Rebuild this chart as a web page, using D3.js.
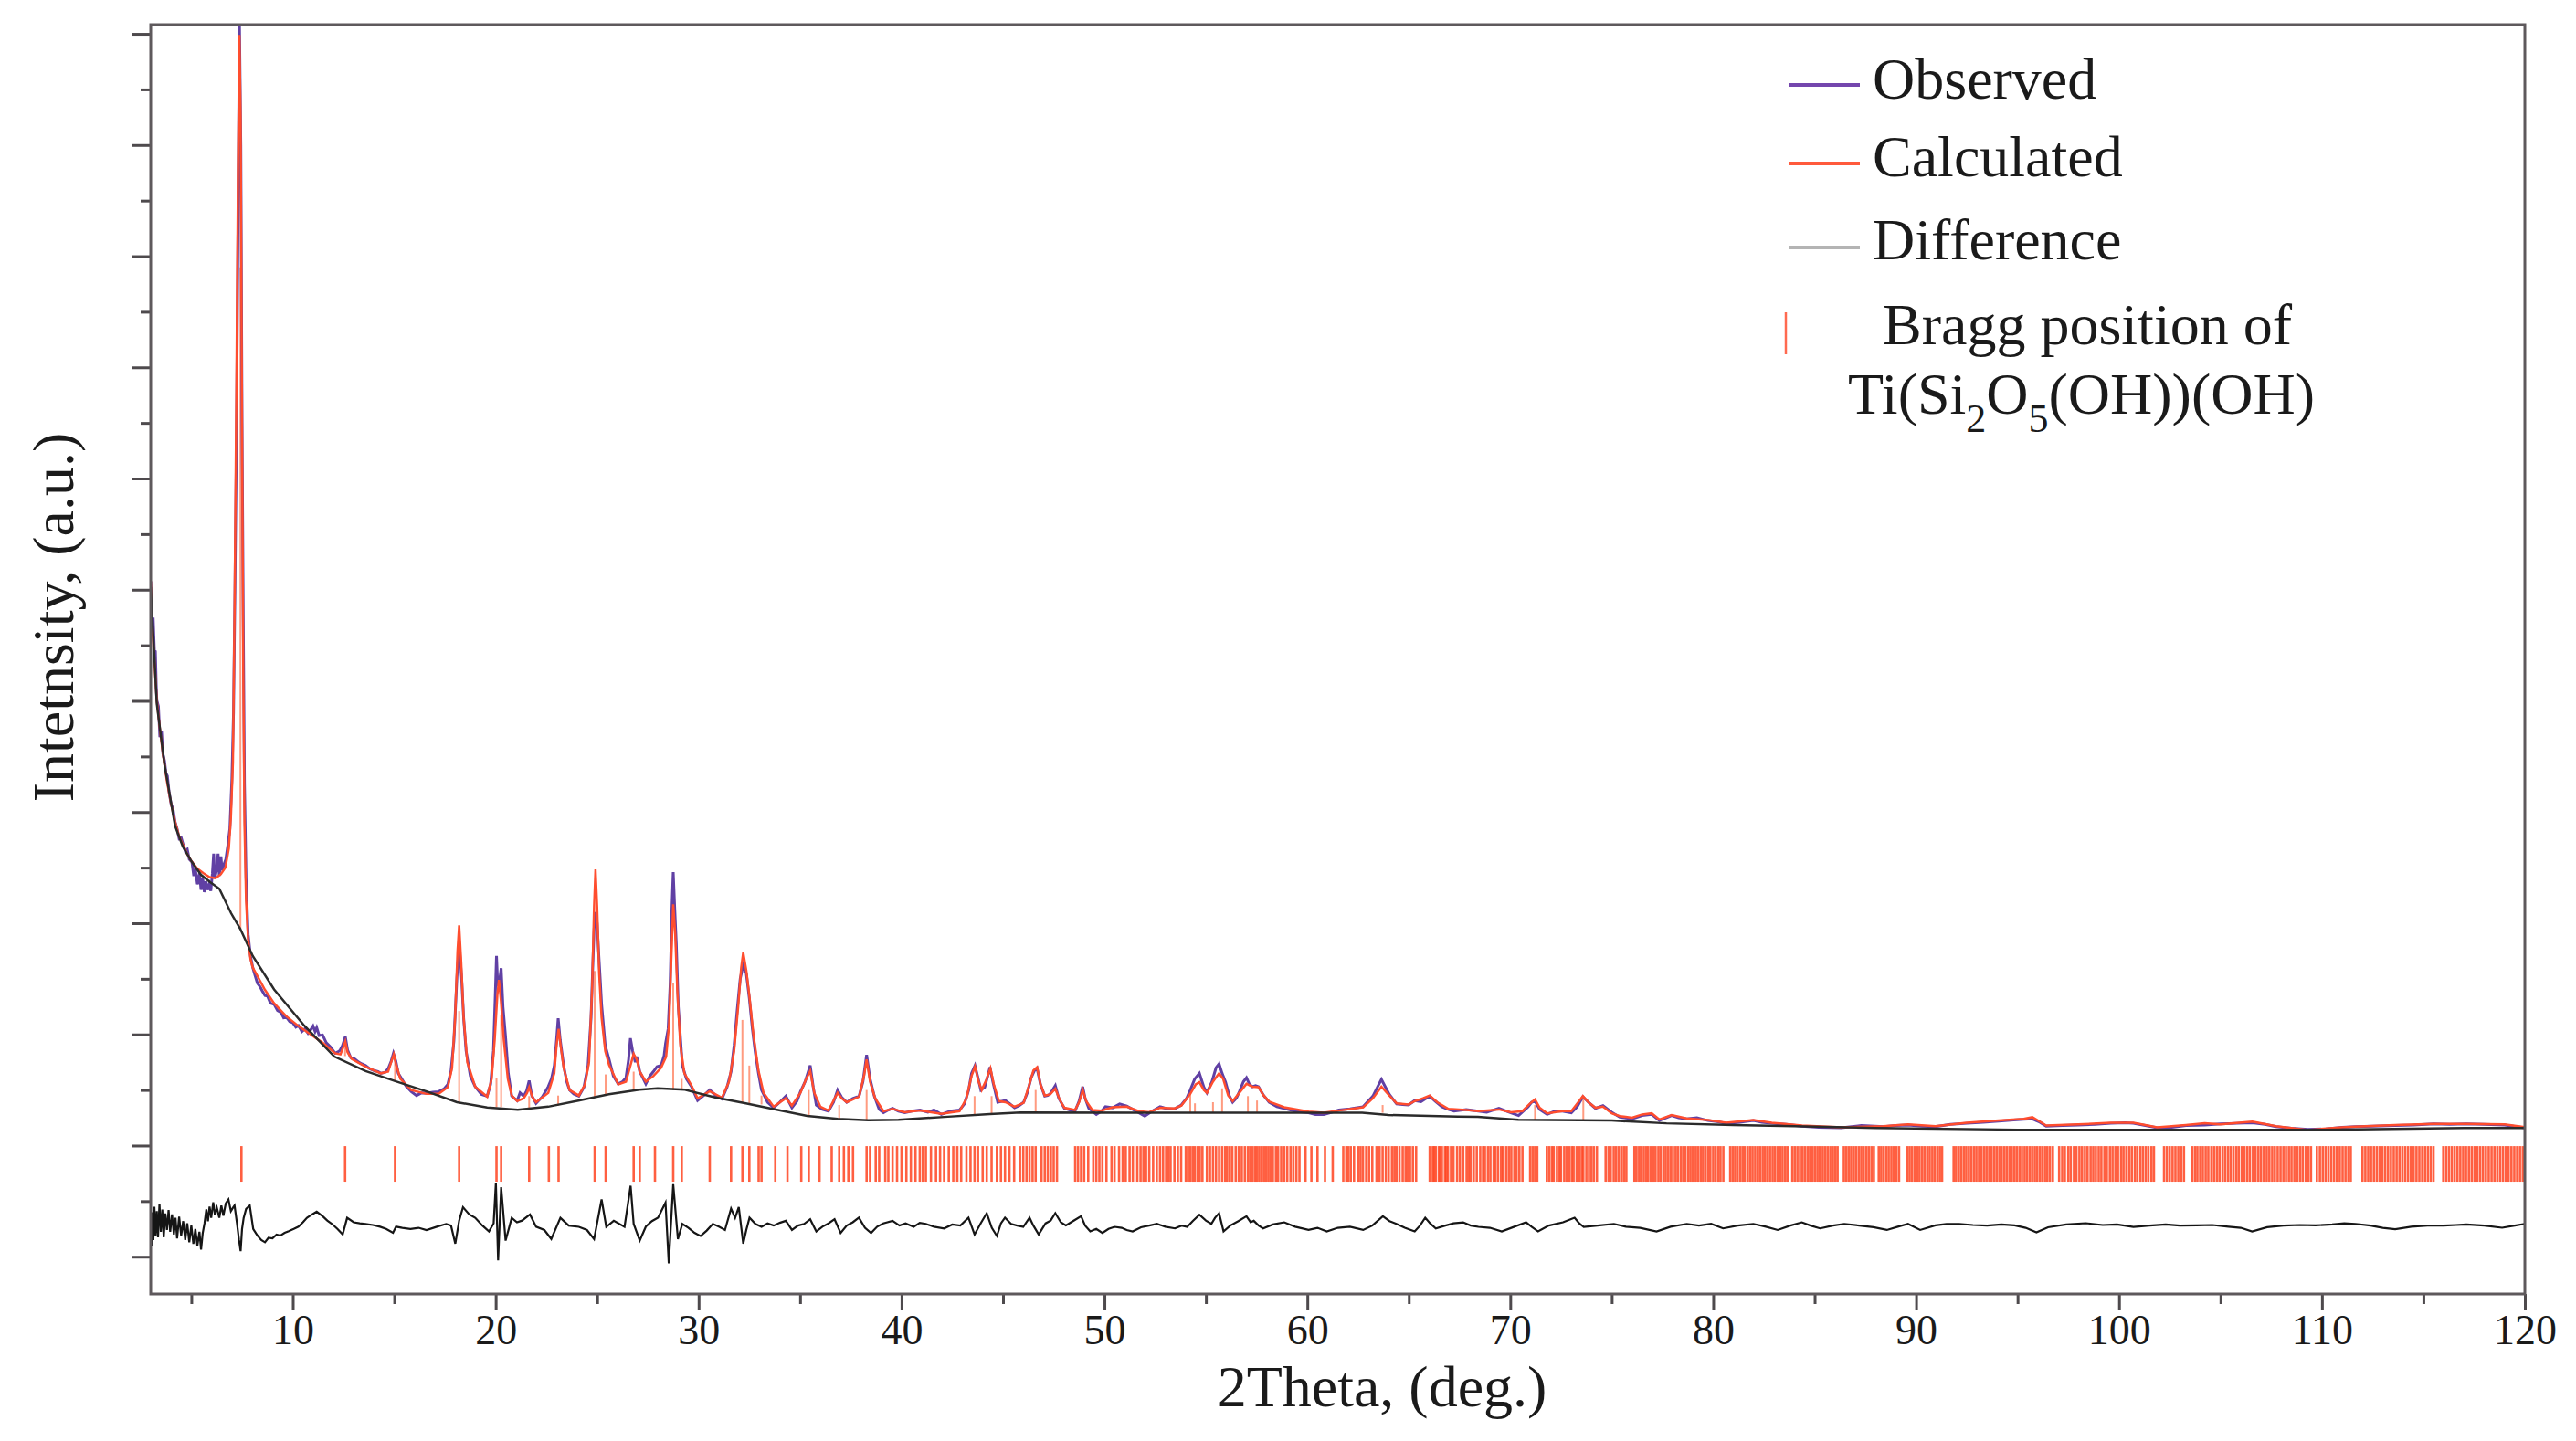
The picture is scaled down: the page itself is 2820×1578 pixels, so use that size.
<!DOCTYPE html>
<html>

<head>
  <title>Rietveld refinement</title>
  <meta charset="utf-8">
  <style>
    body {
      padding: 0;
      margin: 0;
      background: white;
    }
    svg {
      display: block;
      font-family: "Liberation Serif", "Times New Roman", serif;
    }
    .frame {
      fill: none;
      stroke: #5e595c;
      stroke-width: 3;
    }
    .axis line {
      stroke: #4e4a4d;
      stroke-width: 3;
    }
    .axis path {
      display: none;
    }
    .axis text {
      font-family: "Liberation Serif", "Times New Roman", serif;
      font-size: 46px;
      fill: #1a1a1a;
    }
    .title {
      font-size: 64px;
      fill: #1a1a1a;
    }
    .obs { fill: none; stroke: #6040a4; stroke-width: 3; }
    .calc { fill: none; stroke: #ff4d2e; stroke-width: 2.5; }
    .bkg { fill: none; stroke: #2b2b2b; stroke-width: 2.5; }
    .diff { fill: none; stroke: #151515; stroke-width: 2.2; }
    .bragg { stroke: #ff4420; stroke-width: 2.6; opacity: .85; }
    .stick { stroke: #ff8a6a; stroke-width: 2; opacity: .85; }
  </style>
</head>

<body>
  <div id="chart"></div>

  <script src="https://d3js.org/d3.v7.min.js"></script>
  <script>
      // observed pattern [2theta, intensity]
      var observed = [
        [3.00,12150],[3.05,11600],[3.08,11330],[3.12,11500],[3.18,10900],[3.23,10890],[3.27,10300],[3.30,10010],[3.38,9900],[3.45,9350],
        [3.53,9460],[3.60,9050],[3.68,8920],[3.75,8700],[3.82,8650],[3.90,8370],[4.00,8150],[4.10,8050],[4.20,7820],[4.30,7700],
        [4.40,7520],[4.50,7540],[4.58,7440],[4.70,7300],[4.80,7330],[4.90,7150],[5.03,7100],[5.12,6850],[5.20,6980],[5.30,6700],
        [5.40,6900],[5.48,6600],[5.56,6820],[5.64,6560],[5.72,6750],[5.80,6600],[5.88,6700],[5.96,6580],[6.04,6900],[6.10,7250],
        [6.16,6800],[6.24,6950],[6.32,7250],[6.38,6850],[6.46,7200],[6.52,6950],[6.60,7050],[6.70,7150],[6.80,7400],[6.90,7700],
        [7.00,8600],[7.08,9800],[7.15,12000],[7.22,14500],[7.30,18500],[7.37,22300],[7.44,20000],[7.50,15000],[7.56,11500],[7.62,8500],
        [7.70,6800],[7.80,5800],[7.92,5400],[8.03,5200],[8.15,5050],[8.26,4920],[8.40,4850],[8.50,4780],[8.63,4700],[8.75,4690],
        [8.90,4560],[9.08,4540],[9.25,4430],[9.40,4400],[9.55,4300],[9.67,4320],[9.85,4230],[10.00,4210],[10.15,4130],[10.28,4160],
        [10.45,4050],[10.60,4100],[10.75,4020],[10.88,4080],[11.00,4150],[11.10,4050],[11.18,4120],[11.30,3980],[11.47,3990],[11.65,3850],
        [11.85,3780],[12.09,3660],[12.20,3680],[12.32,3710],[12.45,3800],[12.59,3960],[12.70,3720],[12.86,3580],[13.05,3560],[13.25,3500],
        [13.40,3470],[13.59,3440],[13.80,3380],[14.00,3350],[14.20,3330],[14.34,3300],[14.55,3320],[14.71,3390],[14.85,3520],[14.96,3660],
        [15.08,3520],[15.20,3300],[15.40,3180],[15.60,3060],[15.84,2970],[16.10,2900],[16.35,2950],[16.59,2940],[16.90,2960],[17.19,2970],
        [17.45,3020],[17.64,3100],[17.80,3350],[17.94,3880],[18.09,5030],[18.20,5640],[18.32,5030],[18.42,4300],[18.54,3710],[18.75,3250],
        [18.99,3060],[19.30,2920],[19.58,2890],[19.75,3100],[19.89,3710],[19.98,4700],[20.04,5410],[20.10,4900],[20.16,4860],[20.22,5050],
        [20.27,5190],[20.36,4500],[20.48,3990],[20.62,3300],[20.79,2890],[21.06,2810],[21.20,2950],[21.38,2890],[21.52,2980],[21.65,3170],
        [21.78,2900],[21.99,2760],[22.30,2880],[22.59,3060],[22.75,3200],[22.89,3440],[23.00,3900],[23.08,4290],[23.18,3900],[23.35,3440],
        [23.50,3150],[23.64,3000],[23.85,2930],[24.10,2890],[24.35,3050],[24.55,3440],[24.70,4300],[24.77,5080],[24.85,5900],[24.92,6200],
        [25.00,6000],[25.07,5500],[25.15,5000],[25.22,4540],[25.40,3800],[25.59,3550],[25.80,3250],[26.04,3110],[26.25,3150],[26.42,3220],
        [26.55,3550],[26.64,3930],[26.75,3700],[26.88,3500],[26.95,3600],[27.10,3330],[27.40,3110],[27.60,3250],[27.77,3330],[27.95,3420],
        [28.15,3440],[28.30,3620],[28.37,3830],[28.50,4100],[28.60,4920],[28.68,6200],[28.75,6920],[28.82,6300],[28.90,5640],[29.00,4500],
        [29.20,3440],[29.40,3200],[29.65,3060],[29.95,2810],[30.25,2900],[30.55,3000],[30.85,2900],[31.15,2840],[31.40,3050],[31.60,3330],
        [31.75,3800],[31.90,4430],[32.05,5000],[32.20,5250],[32.35,5100],[32.50,4650],[32.65,4100],[32.80,3660],[32.95,3300],[33.10,3000],
        [33.40,2780],[33.70,2680],[34.00,2780],[34.30,2890],[34.60,2680],[34.85,2800],[35.02,2970],[35.25,3150],[35.50,3440],[35.65,3050],
        [35.80,2730],[36.10,2650],[36.40,2620],[36.65,2780],[36.85,3000],[37.05,2870],[37.30,2780],[37.60,2850],[37.91,2890],[38.10,3150],
        [38.28,3630],[38.45,3200],[38.66,2890],[38.90,2650],[39.11,2590],[39.35,2640],[39.56,2670],[39.85,2620],[40.16,2590],[40.50,2620],
        [40.91,2640],[41.30,2600],[41.60,2640],[41.96,2560],[42.40,2620],[42.86,2640],[43.10,2750],[43.31,3000],[43.45,3300],[43.62,3440],
        [43.78,3200],[43.91,3000],[44.10,3050],[44.25,3250],[44.36,3410],[44.50,3150],[44.74,2780],[45.12,2810],[45.35,2750],[45.57,2680],
        [45.80,2720],[46.02,2780],[46.20,2950],[46.39,3220],[46.55,3350],[46.68,3390],[46.85,3100],[47.06,2890],[47.20,2900],[47.32,2930],
        [47.45,3000],[47.58,3080],[47.75,2850],[48.03,2670],[48.30,2640],[48.55,2620],[48.75,2800],[48.93,3060],[49.05,2850],[49.23,2670],
        [49.60,2560],[49.85,2620],[50.05,2700],[50.40,2680],[50.75,2750],[51.10,2710],[51.40,2650],[51.69,2590],[51.99,2530],[52.35,2620],
        [52.74,2700],[53.10,2660],[53.45,2660],[53.79,2730],[54.05,2850],[54.23,3000],[54.45,3200],[54.68,3300],[54.90,3050],[55.05,2950],
        [55.30,3150],[55.50,3400],[55.65,3470],[55.80,3300],[55.97,3140],[56.15,2900],[56.32,2780],[56.50,2850],[56.65,2970],[56.85,3150],
        [57.00,3220],[57.15,3100],[57.29,3060],[57.45,3080],[57.59,3060],[57.85,2900],[58.12,2780],[58.50,2700],[58.86,2670],[59.40,2620],
        [60.06,2590],[60.40,2560],[60.81,2560],[61.20,2600],[61.55,2640],[62.10,2660],[62.75,2700],[63.00,2800],[63.23,2890],[63.45,3050],
        [63.65,3190],[63.85,3050],[64.04,2920],[64.40,2750],[64.70,2740],[64.99,2730],[65.29,2810],[65.60,2790],[66.03,2890],[66.30,2800],
        [66.63,2700],[66.95,2650],[67.23,2620],[67.83,2650],[68.43,2620],[68.84,2600],[69.44,2670],[70.03,2590],[70.41,2540],[70.88,2700],
        [71.05,2780],[71.22,2800],[71.45,2650],[71.82,2560],[72.20,2620],[72.57,2620],[73.01,2590],[73.30,2700],[73.58,2880],[73.85,2780],
        [74.20,2670],[74.57,2720],[75.00,2600],[75.40,2510],[76.00,2480],[76.50,2540],[76.97,2560],[77.35,2450],[77.95,2540],[78.30,2500],
        [78.69,2480],[79.20,2500],[79.74,2450],[80.20,2430],[80.64,2400],[81.30,2420],[81.98,2450],[82.40,2420],[82.88,2400],[83.60,2380],
        [84.37,2350],[85.20,2330],[86.31,2320],[87.30,2360],[88.41,2340],[89.00,2360],[89.60,2370],[90.30,2350],[90.95,2340],[91.70,2380],
        [92.50,2400],[93.30,2420],[94.07,2440],[94.80,2460],[95.30,2470],[95.73,2480],[96.10,2420],[96.41,2350],[97.20,2360],[97.98,2370],
        [98.80,2380],[99.60,2400],[100.30,2410],[100.71,2400],[101.30,2360],[101.88,2320],[102.60,2330],[103.30,2360],[104.22,2370],[105.00,2390],
        [105.80,2400],[106.57,2410],[107.20,2380],[107.74,2340],[108.50,2310],[109.31,2290],[110.20,2300],[111.00,2330],[111.65,2340],[112.50,2350],
        [113.60,2360],[114.50,2370],[115.50,2390],[116.30,2380],[117.12,2390],[118.00,2380],[119.00,2370],[120.00,2320]
      ]

      // calculated profile
      var calculated = [
        [3.00,12150],[3.08,11300],[3.20,10600],[3.30,10000],[3.45,9500],[3.60,9050],[3.80,8550],[4.00,8150],[4.20,7820],[4.40,7560],
        [4.60,7400],[4.80,7240],[5.00,7120],[5.30,6980],[5.60,6900],[5.90,6830],[6.20,6810],[6.45,6880],[6.68,7000],[6.85,7350],
        [6.95,7900],[7.05,8900],[7.13,11600],[7.22,15500],[7.30,19500],[7.37,21980],[7.43,20500],[7.50,15000],[7.56,10500],[7.62,7800],
        [7.70,6400],[7.80,5700],[7.92,5350],[8.03,5200],[8.26,5050],[8.63,4800],[9.08,4560],[9.67,4330],[10.28,4150],[10.88,4000],
        [11.47,3850],[12.09,3660],[12.35,3640],[12.50,3780],[12.59,3870],[12.70,3680],[12.90,3560],[13.59,3420],[14.34,3300],[14.70,3330],
        [14.85,3500],[14.98,3640],[15.10,3450],[15.30,3200],[15.84,3000],[16.59,2930],[17.19,2930],[17.64,3050],[17.85,3400],[18.00,4300],
        [18.12,5500],[18.20,5960],[18.30,5300],[18.42,4300],[18.60,3500],[18.99,3060],[19.58,2880],[19.80,3200],[19.95,3900],[20.08,4700],
        [20.16,4980],[20.26,4600],[20.40,3900],[20.60,3200],[20.79,2900],[21.06,2800],[21.38,2850],[21.55,2950],[21.65,3050],[21.80,2880],
        [21.99,2780],[22.59,2950],[22.89,3300],[23.00,3800],[23.10,4100],[23.20,3800],[23.35,3400],[23.64,3000],[24.10,2900],[24.40,3100],
        [24.60,3500],[24.75,4800],[24.85,6300],[24.92,6970],[25.00,6300],[25.10,5100],[25.22,4300],[25.40,3700],[25.59,3450],[26.04,3100],
        [26.42,3150],[26.65,3450],[26.80,3650],[26.95,3550],[27.10,3330],[27.40,3150],[27.77,3250],[28.15,3400],[28.40,3600],[28.55,4200],
        [28.65,5300],[28.75,6340],[28.85,5800],[28.95,4800],[29.10,3800],[29.30,3300],[29.65,3080],[29.95,2850],[30.55,2980],[31.15,2860],
        [31.50,3150],[31.75,3700],[31.95,4500],[32.10,5200],[32.20,5470],[32.35,5150],[32.50,4700],[32.70,4000],[32.95,3350],[33.20,2950],
        [33.70,2700],[34.30,2850],[34.60,2720],[35.02,2950],[35.30,3200],[35.50,3340],[35.70,2950],[36.00,2700],[36.40,2630],[36.85,2950],
        [37.05,2850],[37.30,2780],[37.91,2880],[38.15,3250],[38.28,3550],[38.45,3150],[38.70,2850],[39.11,2620],[39.56,2660],[40.16,2600],
        [40.91,2630],[41.96,2570],[42.86,2620],[43.20,2850],[43.45,3250],[43.62,3420],[43.80,3150],[43.95,3000],[44.20,3200],[44.38,3390],
        [44.55,3100],[44.80,2800],[45.12,2780],[45.57,2700],[46.02,2770],[46.30,3100],[46.50,3350],[46.68,3410],[46.85,3100],[47.06,2900],
        [47.32,2920],[47.58,3020],[47.80,2820],[48.03,2680],[48.55,2640],[48.75,2780],[48.93,3000],[49.10,2800],[49.40,2640],[49.85,2630],
        [50.40,2690],[51.10,2700],[51.69,2620],[52.20,2600],[52.74,2680],[53.45,2670],[53.79,2720],[54.23,2930],[54.50,3100],[54.68,3140],
        [54.90,3000],[55.05,2950],[55.35,3150],[55.65,3300],[55.85,3200],[56.10,2900],[56.32,2800],[56.65,2950],[57.00,3110],[57.30,3060],
        [57.59,3050],[57.85,2900],[58.12,2790],[58.86,2690],[60.06,2610],[60.81,2590],[61.55,2630],[62.75,2690],[63.23,2850],[63.65,3060],
        [63.85,2980],[64.04,2900],[64.40,2760],[64.99,2740],[65.29,2800],[65.70,2850],[66.03,2900],[66.40,2780],[66.95,2660],[67.83,2640],
        [68.43,2620],[69.44,2650],[70.03,2600],[70.60,2620],[70.95,2750],[71.22,2830],[71.45,2680],[71.82,2580],[72.57,2620],[73.01,2620],
        [73.35,2780],[73.58,2890],[73.85,2780],[74.20,2680],[74.57,2700],[75.00,2580],[75.40,2530],[76.00,2500],[76.50,2560],[76.97,2580],
        [77.35,2470],[77.95,2550],[78.69,2490],[79.74,2460],[80.64,2410],[81.98,2460],[82.88,2410],[84.37,2360],[86.31,2330],[88.41,2350],
        [89.60,2380],[90.95,2350],[92.50,2410],[94.07,2450],[95.30,2480],[95.73,2510],[96.10,2430],[96.41,2360],[97.98,2380],[99.60,2410],
        [100.71,2410],[101.88,2330],[103.30,2370],[104.22,2400],[105.00,2380],[106.57,2430],[107.74,2350],[109.31,2280],[111.00,2330],[111.65,2340],
        [113.60,2370],[115.50,2390],[117.12,2390],[119.00,2380],[120.00,2330]
      ]

      // refined background
      var background = [
        [3.0,12050],[3.3,9950],[3.68,8850],[4.2,7750],[4.58,7380],[5.03,7100],[5.48,6870],[5.93,6740],[6.38,6620],[6.96,6180],
        [7.41,5900],[8.03,5410],[9.08,4810],[10.56,4160],[12.05,3600],[13.59,3340],[15.08,3155],[16.59,2975],[18.09,2780],[19.58,2685],
        [21.09,2645],[22.59,2700],[24.08,2810],[25.58,2925],[27.08,3005],[27.98,3030],[29.33,3005],[30.82,2865],[32.33,2760],[33.86,2645],
        [35.35,2535],[36.86,2480],[38.36,2455],[39.85,2465],[42.1,2515],[44.35,2565],[45.87,2595],[52.0,2590],[62.7,2590],[64.0,2550],
        [67.4,2520],[68.4,2515],[70.4,2465],[75.0,2450],[77.7,2400],[81.0,2370],[84.0,2350],[88.0,2315],[95.0,2285],[110.0,2285],
        [117.0,2315],[120.0,2315]
      ]

      // observed - calculated (already shifted down under the ticks)
      var difference = [
        [3.00,560],[3.04,200],[3.08,800],[3.13,300],[3.18,900],[3.24,380],[3.30,820],[3.36,350],[3.43,950],[3.50,450],
        [3.57,850],[3.64,350],[3.72,780],[3.80,480],[3.88,840],[3.96,450],[4.05,760],[4.14,400],[4.22,700],[4.30,330],
        [4.40,720],[4.50,380],[4.60,640],[4.70,300],[4.80,600],[4.90,260],[5.00,560],[5.10,230],[5.20,500],[5.30,200],
        [5.40,450],[5.48,130],[5.56,420],[5.65,600],[5.74,850],[5.82,640],[5.90,900],[5.98,700],[6.08,980],[6.16,760],
        [6.26,880],[6.38,700],[6.48,920],[6.58,740],[6.70,960],[6.83,1030],[6.95,820],[7.05,880],[7.13,920],[7.25,600],
        [7.35,300],[7.43,100],[7.50,500],[7.58,700],[7.70,860],[7.88,920],[8.05,500],[8.26,380],[8.45,300],[8.63,260],
        [8.80,340],[9.00,330],[9.20,400],[9.38,380],[9.60,430],[9.80,460],[10.05,500],[10.28,540],[10.50,620],[10.70,700],
        [10.95,760],[11.18,810],[11.50,720],[11.70,650],[11.93,590],[12.20,500],[12.46,400],[12.68,700],[13.00,620],[13.30,600],
        [13.59,590],[13.95,570],[14.30,540],[14.60,500],[14.94,430],[15.09,540],[15.40,520],[15.80,500],[16.20,520],[16.59,480],
        [17.10,540],[17.56,590],[17.80,560],[18.01,235],[18.20,650],[18.39,890],[18.70,760],[18.99,700],[19.35,560],[19.67,455],
        [19.90,600],[20.01,1330],[20.12,-65],[20.27,1250],[20.49,290],[20.79,700],[21.05,620],[21.30,650],[21.69,760],[21.99,540],
        [22.40,480],[22.74,320],[23.19,700],[23.60,560],[24.10,537],[24.50,480],[24.85,317],[25.22,1030],[25.45,537],[25.82,646],
        [26.35,537],[26.65,1277],[26.80,591],[27.10,291],[27.40,542],[27.70,640],[28.00,702],[28.37,974],[28.53,-120],[28.75,1303],
        [28.98,317],[29.20,591],[29.50,520],[29.80,430],[30.10,373],[30.40,470],[30.70,591],[31.00,540],[31.30,481],[31.60,866],
        [31.80,700],[31.98,892],[32.20,235],[32.35,480],[32.51,702],[32.80,590],[33.10,537],[33.40,600],[33.70,560],[34.00,610],
        [34.30,646],[34.60,481],[34.90,560],[35.20,590],[35.50,674],[35.80,455],[36.10,540],[36.40,600],[36.70,674],[37.00,427],
        [37.30,560],[37.60,620],[37.90,702],[38.20,520],[38.50,427],[38.80,540],[39.10,600],[39.56,646],[39.90,560],[40.20,600],
        [40.60,537],[40.90,610],[41.20,591],[41.60,540],[42.10,509],[42.50,580],[42.90,560],[43.30,702],[43.60,399],[43.90,600],
        [44.20,784],[44.45,520],[44.70,373],[44.90,600],[45.10,702],[45.40,590],[45.70,560],[46.00,537],[46.31,702],[46.50,560],
        [46.76,399],[47.10,600],[47.35,650],[47.58,784],[47.85,620],[48.10,564],[48.45,640],[48.85,728],[49.05,560],[49.30,455],
        [49.60,500],[49.90,427],[50.20,500],[50.50,537],[50.85,520],[51.10,480],[51.39,455],[51.80,530],[52.20,560],[52.59,591],
        [53.00,540],[53.48,509],[53.80,560],[54.08,537],[54.35,640],[54.68,756],[55.00,650],[55.27,591],[55.45,700],[55.65,784],
        [55.87,455],[56.20,560],[56.60,640],[57.00,728],[57.20,620],[57.36,646],[57.60,560],[57.82,509],[58.30,580],[58.86,619],
        [59.40,540],[60.06,481],[60.50,520],[60.96,455],[61.50,520],[62.10,540],[62.75,481],[63.20,560],[63.72,728],[64.05,640],
        [64.39,591],[64.80,520],[65.29,455],[65.55,560],[65.81,702],[66.05,600],[66.33,509],[66.80,560],[67.20,600],[67.68,619],
        [68.05,560],[68.43,537],[69.00,520],[69.58,455],[70.20,540],[70.78,619],[71.05,540],[71.37,455],[71.90,560],[72.60,620],
        [73.17,702],[73.40,600],[73.62,537],[74.30,560],[75.11,591],[75.70,540],[76.40,520],[77.21,455],[77.90,540],[78.70,591],
        [79.30,560],[79.90,591],[80.49,509],[81.20,560],[81.98,591],[82.60,540],[83.18,481],[83.80,560],[84.37,619],[84.80,560],
        [85.27,509],[85.90,560],[86.46,591],[87.20,560],[87.90,530],[88.56,481],[89.10,540],[89.60,591],[90.20,481],[90.95,564],
        [91.50,590],[92.12,591],[92.80,570],[93.50,560],[94.20,580],[94.85,564],[95.40,520],[95.93,439],[96.50,530],[97.40,580],
        [98.36,603],[99.20,570],[99.90,580],[100.71,537],[101.50,560],[102.30,580],[103.00,560],[103.84,564],[104.60,570],[105.40,540],
        [106.00,520],[106.56,455],[107.30,530],[108.10,560],[108.90,570],[109.69,564],[110.50,580],[111.10,600],[111.65,591],[112.40,560],
        [113.00,520],[113.61,493],[114.40,540],[115.20,560],[116.00,560],[116.60,570],[117.12,580],[118.00,560],[118.88,521],[119.50,560],
        [120.00,591]
      ]

      // reflection sticks [2theta, base, top]
      var sticks = [
        [7.42,5900,17800],[12.58,3610,3930],[15.04,3150,3600],[18.20,2780,4420],[20.04,2690,3220],[20.27,2690,4340],
        [21.65,2660,2890],[23.08,2720,2900],[24.88,2860,5140],[25.42,2900,3280],[26.80,2980,3330],[28.75,3000,4920],
        [29.17,3000,3200],[32.16,2770,4260],[32.50,2760,3440],[33.10,2740,2900],[35.43,2540,3000],[36.93,2480,2730],
        [38.28,2455,3000],[43.60,2540,2890],[44.44,2560,2890],[46.61,2595,3000],[54.23,2590,2950],[54.46,2590,2760],
        [55.35,2590,2780],[55.80,2590,3030],[57.07,2590,2890],[57.52,2590,2810],[63.71,2590,2730],[71.22,2465,2730],
        [73.60,2460,2840]
      ]

      // Bragg positions of Ti(Si2O5(OH))(OH)
      var braggPositions = [
        7.47, 12.58, 15.04, 18.2, 20.04, 20.27, 21.65, 22.62, 23.1, 24.88, 25.42, 26.8, 27.1, 27.85, 28.75, 29.17,
        30.55, 31.6, 32.16, 32.5, 32.96, 33.1, 33.78, 34.38, 35.06, 35.43, 35.96, 36.56, 36.93, 37.16, 37.38, 37.61,
        38.28, 38.45, 38.73, 38.9, 39.2, 39.35, 39.56, 39.78, 40.0, 40.24, 40.46, 40.69, 40.9, 41.05, 41.2, 41.45,
        41.7, 41.9, 42.1, 42.33, 42.55, 42.75, 42.94, 43.2, 43.4, 43.6, 43.77, 44.0, 44.2, 44.44, 44.7, 44.9,
        45.1, 45.32, 45.55, 45.84, 46.0, 46.16, 46.31, 46.46, 46.61, 46.9, 47.06, 47.21, 47.36, 47.5, 47.66, 48.56,
        48.7, 48.85, 49.0, 49.2, 49.45, 49.6, 49.75, 49.9, 50.1, 50.35, 50.5, 50.72, 50.9, 51.05, 51.24, 51.4,
        51.62, 51.78, 51.92, 52.05, 52.21, 52.4, 52.58, 52.74, 52.89, 53.04, 53.15, 53.26, 53.45, 53.62, 53.78, 54.01,
        54.12, 54.23, 54.35, 54.46, 54.6, 54.7, 54.83, 55.05, 55.2, 55.35, 55.5, 55.65, 55.8, 55.95, 56.05, 56.18,
        56.3, 56.47, 56.62, 56.77, 56.92, 57.07, 57.18, 57.3, 57.42, 57.52, 57.63, 57.75, 57.86, 57.97, 58.08, 58.19,
        58.3, 58.45, 58.56, 58.71, 58.86, 59.01, 59.17, 59.31, 59.46, 59.61, 59.91, 60.2, 60.5, 60.87, 61.25, 61.77,
        61.92, 62.02, 62.14, 62.3, 62.5, 62.62, 62.74, 62.9, 63.04, 63.2, 63.41, 63.56, 63.71, 63.87, 64.01, 64.17,
        64.29, 64.39, 64.54, 64.7, 64.84, 64.95, 65.06, 65.2, 65.36, 66.03, 66.18, 66.25, 66.33, 66.48, 66.55, 66.63,
        66.78, 66.85, 66.93, 67.08, 67.2, 67.38, 67.52, 67.68, 67.85, 67.95, 68.05, 68.2, 68.35,
        68.52, 68.66, 68.75, 68.9, 69.02, 69.18, 69.27, 69.4, 69.55, 69.64, 69.8, 69.93, 70.05, 70.2, 70.31, 70.45, 70.6,
        70.98, 71.1, 71.22, 71.33,
        71.8, 71.92, 72.05, 72.14, 72.3, 72.42, 72.5, 72.66, 72.78, 72.9, 73.03, 73.12, 73.27, 73.4, 73.52, 73.6,
        73.75, 73.88, 74.0, 74.12, 74.27,
        74.7, 74.84, 74.95, 75.1, 75.22, 75.35, 75.48, 75.6, 75.72,
        76.12, 76.22, 76.35, 76.45, 76.58, 76.7, 76.8, 76.93, 77.05, 77.16, 77.3, 77.41, 77.55, 77.66, 77.78, 77.9,
        78.02, 78.15, 78.26, 78.4, 78.52, 78.63, 78.77, 78.88, 79.0, 79.14, 79.25, 79.38, 79.5, 79.62, 79.75, 79.86,
        80.0, 80.12, 80.25, 80.36, 80.5,
        80.84, 80.96, 81.08, 81.2, 81.33, 81.45, 81.56, 81.7, 81.82, 81.94, 82.07, 82.2, 82.31, 82.44, 82.56, 82.68,
        82.8, 82.93, 83.05, 83.18, 83.3, 83.42, 83.55, 83.66,
        83.9, 84.02, 84.15, 84.28, 84.4, 84.52, 84.65, 84.77, 84.9, 85.02, 85.14, 85.26, 85.4, 85.52, 85.64, 85.77,
        85.9, 86.02, 86.13,
        86.44, 86.56, 86.68, 86.8, 86.93, 87.05, 87.18, 87.3, 87.42, 87.55, 87.67, 87.8, 87.92,
        88.16, 88.28, 88.4, 88.53, 88.65, 88.78, 88.9, 89.03, 89.16,
        89.56, 89.68, 89.8, 89.93, 90.05, 90.17, 90.3, 90.42, 90.55, 90.67, 90.8, 90.92, 91.05, 91.17, 91.28,
        91.85, 91.97, 92.1, 92.22, 92.35, 92.47, 92.6, 92.72, 92.85, 92.97, 93.1, 93.22, 93.35, 93.47, 93.6, 93.72,
        93.85, 93.97, 94.1, 94.22, 94.35, 94.47, 94.6, 94.72, 94.85, 94.97, 95.1, 95.22, 95.35, 95.47, 95.6, 95.72,
        95.85, 95.97, 96.1, 96.22, 96.35, 96.47, 96.6, 96.74,
        97.05, 97.2, 97.33, 97.5, 97.62, 97.78, 97.9, 98.05, 98.18, 98.32, 98.45, 98.6, 98.73, 98.86, 99.0, 99.13,
        99.28, 99.4, 99.55, 99.68, 99.82, 99.95, 100.1, 100.22, 100.36, 100.5, 100.63, 100.78, 100.9, 101.05, 101.18,
        101.32, 101.45, 101.6, 101.72,
        102.22, 102.36, 102.5, 102.64, 102.78, 102.92, 103.06, 103.2,
        103.6, 103.74, 103.86, 104.0, 104.13, 104.27, 104.4, 104.55, 104.68, 104.82, 104.95, 105.1, 105.23, 105.37,
        105.5, 105.64, 105.78, 105.9, 106.05, 106.18, 106.32, 106.45, 106.6, 106.73, 106.87, 107.0, 107.14, 107.28,
        107.41, 107.55, 107.68, 107.82, 107.96, 108.1, 108.23, 108.37, 108.5, 108.64, 108.78, 108.92, 109.05, 109.2,
        109.33, 109.46,
        109.75, 109.9, 110.04, 110.18, 110.32, 110.46, 110.6, 110.74, 110.88, 111.02, 111.16, 111.3, 111.42,
        112.0, 112.14, 112.28, 112.42, 112.56, 112.7, 112.84, 112.98, 113.12, 113.26, 113.4, 113.54, 113.68, 113.82,
        113.96, 114.1, 114.24, 114.38, 114.52, 114.66, 114.8, 114.94, 115.08, 115.22, 115.36, 115.5, 115.98, 116.12,
        116.26, 116.4, 116.54, 116.68, 116.82, 116.96, 117.1, 117.24, 117.38, 117.52, 117.66, 117.8, 117.94, 118.08,
        118.22, 118.36, 118.5, 118.64, 118.78, 118.92, 119.06, 119.2, 119.34, 119.48, 119.62, 119.76, 119.9
      ]

      var xMajorTicks = [10, 20, 30, 40, 50, 60, 70, 80, 90, 100, 110, 120]
      var xMinorTicks = [5, 15, 25, 35, 45, 55, 65, 75, 85, 95, 105, 115]
      var yMajorTicks = [0, 2000, 4000, 6000, 8000, 10000, 12000, 14000, 16000, 18000, 20000, 22000]
      var yMinorTicks = [1000, 3000, 5000, 7000, 9000, 11000, 13000, 15000, 17000, 19000, 21000]

      var legendItems = ["Observed", "Calculated", "Difference"]
      var legendColors = ["#7446ad", "#ff5a3c", "#b4b4b4"]

      // size of the picture
      var width = 2820,
        height = 1578

      // plot box in pixels
      var plotLeft = 165, plotRight = 2764, plotTop = 27, plotBottom = 1417

      var x = d3.scaleLinear().domain([3, 120]).range([plotLeft, plotRight])
      var y = d3.scaleLinear().domain([-670, 22165]).range([plotBottom, plotTop])

      var svg = d3.select("#chart")
        .append("svg")
        .attr("width", width)
        .attr("height", height)

      svg.append("clipPath")
        .attr("id", "plot-clip")
        .append("rect")
        .attr("x", plotLeft)
        .attr("y", plotTop)
        .attr("width", plotRight - plotLeft)
        .attr("height", plotBottom - plotTop)

      // axes (ticks only, the box is drawn separately)
      svg.append("g")
        .attr("class", "axis")
        .attr("transform", "translate(0," + plotBottom + ")")
        .call(d3.axisBottom(x).tickValues(xMajorTicks).tickSize(18).tickPadding(4))

      svg.append("g")
        .attr("class", "axis")
        .attr("transform", "translate(0," + plotBottom + ")")
        .call(d3.axisBottom(x).tickValues(xMinorTicks).tickSize(11).tickFormat(""))

      svg.append("g")
        .attr("class", "axis")
        .attr("transform", "translate(" + plotLeft + ",0)")
        .call(d3.axisLeft(y).tickValues(yMajorTicks).tickSize(20).tickFormat(""))

      svg.append("g")
        .attr("class", "axis")
        .attr("transform", "translate(" + plotLeft + ",0)")
        .call(d3.axisLeft(y).tickValues(yMinorTicks).tickSize(11).tickFormat(""))

      var line = d3.line()
        .x(function (d) { return x(d[0]) })
        .y(function (d) { return y(d[1]) })

      var plot = svg.append("g")
        .attr("clip-path", "url(#plot-clip)")

      // reflection sticks under the peaks
      plot.append("g")
        .selectAll("line")
        .data(sticks)
        .enter().append("line")
        .attr("class", "stick")
        .attr("x1", function (d) { return x(d[0]) })
        .attr("x2", function (d) { return x(d[0]) })
        .attr("y1", function (d) { return y(d[1]) })
        .attr("y2", function (d) { return y(d[2]) })

      plot.append("path").datum(observed).attr("class", "obs").attr("d", line)
      plot.append("path").datum(calculated).attr("class", "calc").attr("d", line)
      plot.append("path").datum(background).attr("class", "bkg").attr("d", line)
      plot.append("path").datum(difference).attr("class", "diff").attr("d", line)

      // Bragg tick row
      var braggLow = 1350, braggHigh = 1990
      plot.append("g")
        .selectAll("line")
        .data(braggPositions)
        .enter().append("line")
        .attr("class", "bragg")
        .attr("x1", function (d) { return x(d) })
        .attr("x2", function (d) { return x(d) })
        .attr("y1", y(braggLow))
        .attr("y2", y(braggHigh))

      // frame
      svg.append("rect")
        .attr("class", "frame")
        .attr("x", plotLeft)
        .attr("y", plotTop)
        .attr("width", plotRight - plotLeft)
        .attr("height", plotBottom - plotTop)

      // axis titles
      svg.append("text")
        .attr("class", "title")
        .attr("x", 1513)
        .attr("y", 1540)
        .attr("text-anchor", "middle")
        .text("2Theta, (deg.)")

      svg.append("text")
        .attr("class", "title")
        .attr("transform", "translate(80,676) rotate(-90)")
        .attr("text-anchor", "middle")
        .text("Intetnsity, (a.u.)")

      // legend
      var legend = svg.append("g")
        .selectAll("g")
        .data(legendItems)
        .enter().append("g")
        .attr("transform", function (d, i) { return "translate(1959," + [93, 179, 271][i] + ")" })

      legend.append("line")
        .attr("x1", 0)
        .attr("x2", 77)
        .attr("stroke", function (d, i) { return legendColors[i] })
        .attr("stroke-width", 4)

      legend.append("text")
        .attr("class", "title")
        .attr("x", 91)
        .attr("y", function (d, i) { return [15, 14, 13][i] })
        .text(function (d) { return d })

      svg.append("line")
        .attr("x1", 1955)
        .attr("x2", 1955)
        .attr("y1", 342)
        .attr("y2", 388)
        .attr("stroke", "#ff6a50")
        .attr("stroke-width", 2.5)

      svg.append("text")
        .attr("class", "title")
        .attr("x", 2061)
        .attr("y", 377)
        .text("Bragg position of")

      var formula = svg.append("text")
        .attr("class", "title")
        .attr("x", 2023)
        .attr("y", 453)
      formula.append("tspan").text("Ti(Si")
      formula.append("tspan").attr("dy", 20).attr("font-size", 44).text("2")
      formula.append("tspan").attr("dy", -20).text("O")
      formula.append("tspan").attr("dy", 20).attr("font-size", 44).text("5")
      formula.append("tspan").attr("dy", -20).text("(OH))(OH)")

  </script>
</body>

</html>
